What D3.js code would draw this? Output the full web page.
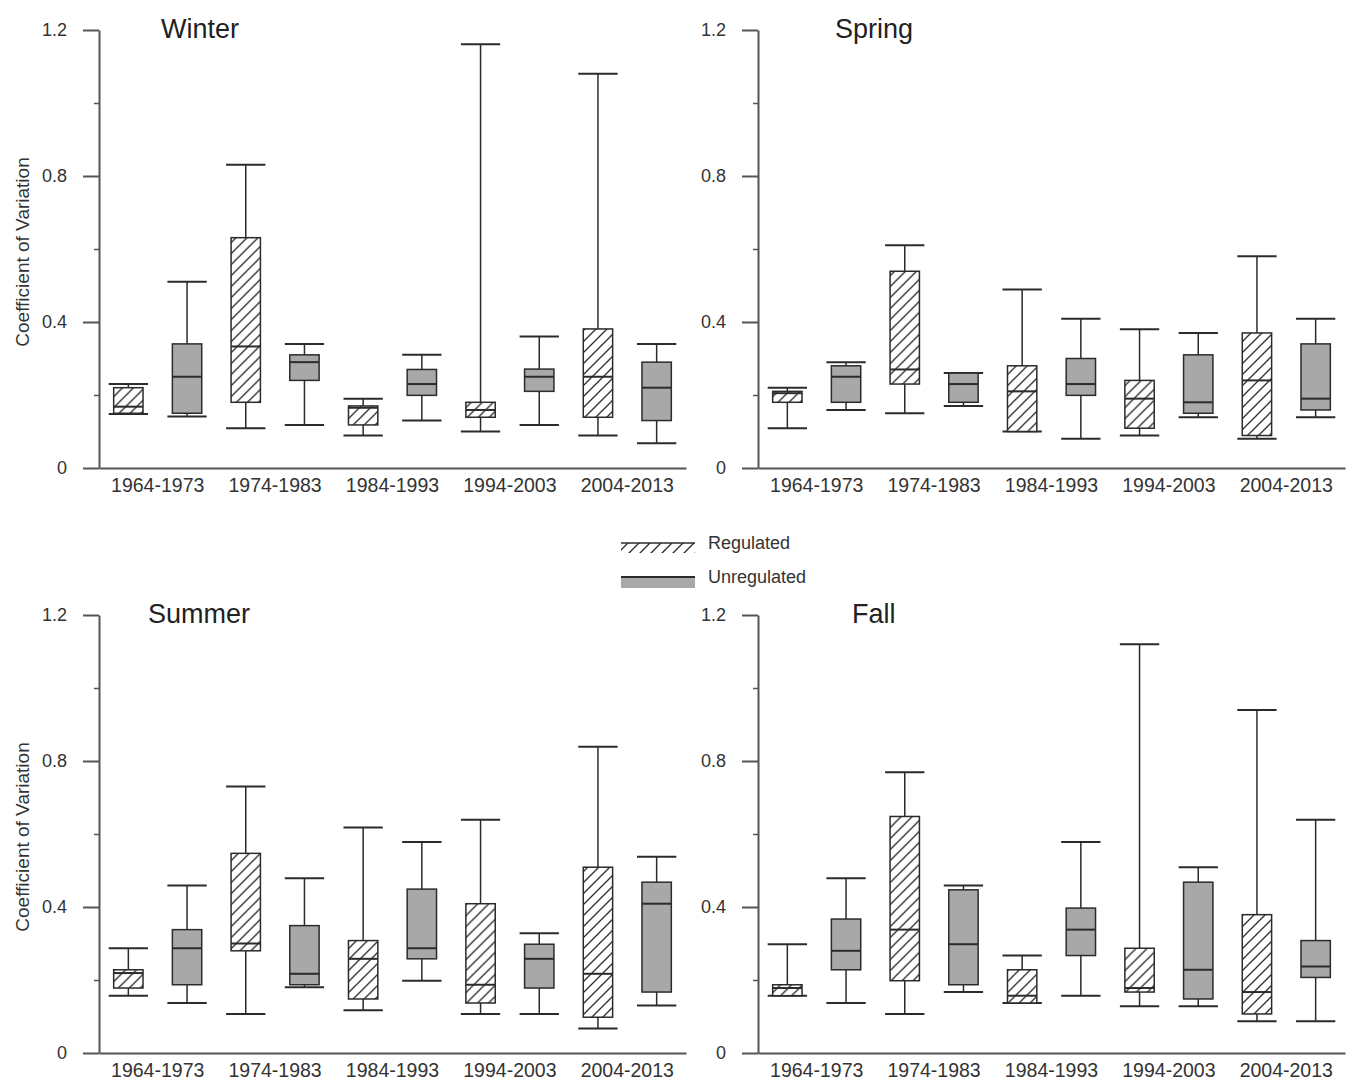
<!DOCTYPE html>
<html>
<head>
<meta charset="utf-8">
<script src="https://cdn.jsdelivr.net/npm/d3@7"></script>
<style>
  body { margin: 0; background: #fff; }
  svg { display: block; font-family: "Liberation Sans", Arial, sans-serif; }
</style>
</head>
<body>
<div class="chart"></div>
<script>

// Periods on the x axis
var periods = ["1964-1973", "1974-1983", "1984-1993", "1994-2003", "2004-2013"];
var seasons = ["Winter", "Spring", "Summer", "Fall"];
var yTicks = [0, 0.4, 0.8, 1.2];
var yMinorTicks = [0.2, 0.6, 1.0];

// Each box: [lower whisker, Q1, median, Q3, upper whisker]
var winterReg = [
    [0.148, 0.150, 0.168, 0.220, 0.230],
    [0.109, 0.180, 0.333, 0.631, 0.831],
    [0.089, 0.118, 0.165, 0.170, 0.190],
    [0.100, 0.139, 0.159, 0.180, 1.161],
    [0.089, 0.139, 0.250, 0.381, 1.080]
];
var winterUnreg = [
    [0.141, 0.150, 0.250, 0.340, 0.510],
    [0.118, 0.240, 0.290, 0.310, 0.340],
    [0.130, 0.199, 0.230, 0.270, 0.310],
    [0.118, 0.210, 0.250, 0.271, 0.360],
    [0.068, 0.130, 0.220, 0.290, 0.340]
];
var springReg = [
    [0.109, 0.180, 0.205, 0.210, 0.220],
    [0.150, 0.230, 0.270, 0.539, 0.610],
    [0.100, 0.100, 0.210, 0.280, 0.489],
    [0.089, 0.109, 0.190, 0.240, 0.380],
    [0.080, 0.089, 0.240, 0.370, 0.580]
];
var springUnreg = [
    [0.159, 0.180, 0.250, 0.280, 0.290],
    [0.170, 0.180, 0.230, 0.260, 0.260],
    [0.080, 0.199, 0.230, 0.300, 0.409],
    [0.139, 0.150, 0.180, 0.310, 0.370],
    [0.139, 0.159, 0.190, 0.340, 0.409]
];
var summerReg = [
    [0.157, 0.178, 0.219, 0.228, 0.287],
    [0.107, 0.280, 0.300, 0.547, 0.730],
    [0.117, 0.148, 0.258, 0.308, 0.618],
    [0.107, 0.137, 0.187, 0.409, 0.639],
    [0.067, 0.098, 0.217, 0.509, 0.839]
];
var summerUnreg = [
    [0.137, 0.187, 0.287, 0.338, 0.459],
    [0.180, 0.187, 0.217, 0.349, 0.479],
    [0.198, 0.258, 0.287, 0.449, 0.578],
    [0.107, 0.178, 0.258, 0.298, 0.328],
    [0.130, 0.167, 0.409, 0.468, 0.538]
];
var fallReg = [
    [0.157, 0.157, 0.178, 0.187, 0.298],
    [0.107, 0.198, 0.338, 0.648, 0.769],
    [0.137, 0.137, 0.157, 0.228, 0.267],
    [0.128, 0.167, 0.178, 0.287, 1.120],
    [0.087, 0.107, 0.167, 0.379, 0.940]
];
var fallUnreg = [
    [0.137, 0.228, 0.280, 0.367, 0.479],
    [0.167, 0.187, 0.298, 0.447, 0.459],
    [0.157, 0.267, 0.338, 0.397, 0.578],
    [0.128, 0.148, 0.228, 0.468, 0.509],
    [0.087, 0.207, 0.237, 0.308, 0.639]
];

var seasonData = {
    Winter: [winterReg, winterUnreg],
    Spring: [springReg, springUnreg],
    Summer: [summerReg, summerUnreg],
    Fall: [fallReg, fallUnreg]
};

// Panel placement (axis origin, title offset)
var panels = [
    { name: "Winter", left: 99,  top: 30,  titleX: 62, yLabel: true },
    { name: "Spring", left: 758, top: 30,  titleX: 77, yLabel: false },
    { name: "Summer", left: 99,  top: 615, titleX: 49, yLabel: true },
    { name: "Fall",   left: 758, top: 615, titleX: 94, yLabel: false }
];
var plotW = 587, plotH = 438;
var ink = "#2b2b2b", axisCol = "#555", grayFill = "#a8a8a8", textCol = "#333";

var svg = d3.select(".chart")
    .append("svg")
        .attr("width", 1349)
        .attr("height", 1081);

// Hatch pattern for regulated boxes
var hs = 11;
var pat = svg.append("defs").append("pattern")
    .attr("id", "hatch")
    .attr("patternUnits", "userSpaceOnUse")
    .attr("width", hs)
    .attr("height", hs);
pat.append("rect").attr("width", hs).attr("height", hs).attr("fill", "#fff");
pat.append("path")
    .attr("d", "M-2,2 L2,-2 M0," + hs + " L" + hs + ",0 M" + (hs - 2) + "," + (hs + 2) + " L" + (hs + 2) + "," + (hs - 2))
    .attr("stroke", "#2b2b2b")
    .attr("stroke-width", 1.3);

var keys = [];
periods.forEach(function(p) { keys.push(p + "|R"); keys.push(p + "|U"); });

var x = d3.scaleBand().domain(keys).range([0, plotW]);
var xp = d3.scaleBand().domain(periods).range([0, plotW]);
var y = d3.scaleLinear().domain([0, 1.2]).range([plotH, 0]);

var boxW = x.bandwidth() * 0.5;
var capW = x.bandwidth() * 0.67;

panels.forEach(function(p) {
    var g = svg.append("g")
        .attr("transform", "translate(" + p.left + "," + p.top + ")");

    // Y axis, major and minor ticks
    var yAxis = d3.axisLeft(y)
        .tickValues(yTicks)
        .tickSize(16)
        .tickSizeOuter(0)
        .tickPadding(16)
        .tickFormat(function(d) { return d === 0 ? "0" : d3.format(".1f")(d); });

    var ya = g.append("g").attr("class", "yAxis").call(yAxis);
    ya.select(".domain").attr("stroke", axisCol).attr("stroke-width", 2);
    ya.selectAll(".tick line").attr("stroke", axisCol).attr("stroke-width", 2);
    ya.selectAll(".tick text")
        .attr("fill", textCol)
        .style("font-size", "18px");

    g.append("g")
        .call(d3.axisLeft(y).tickValues(yMinorTicks).tickSize(5).tickSizeOuter(0).tickFormat(""))
        .call(function(s) {
            s.select(".domain").remove();
            s.selectAll(".tick line").attr("stroke", axisCol).attr("stroke-width", 1.5);
        });

    // X axis line
    var xa = g.append("g")
        .attr("transform", "translate(0," + plotH + ")")
        .call(d3.axisBottom(x).tickSize(0).tickSizeOuter(0).tickFormat(""));
    xa.select(".domain").attr("stroke", axisCol).attr("stroke-width", 2);

    g.selectAll(".xlab")
        .data(periods)
        .enter().append("text")
            .attr("class", "xlab")
            .attr("x", function(d) { return xp(d) + xp.bandwidth() / 2; })
            .attr("y", plotH + 24)
            .attr("text-anchor", "middle")
            .attr("fill", textCol)
            .style("font-size", "19.5px")
            .text(function(d) { return d; });

    // Title
    g.append("text")
        .attr("x", p.titleX)
        .attr("y", 8)
        .attr("fill", "#222")
        .style("font-size", "27px")
        .text(p.name);

    if (p.yLabel) {
        g.append("text")
            .attr("transform", "translate(-70," + (plotH / 2 + 3) + ") rotate(-90)")
            .attr("text-anchor", "middle")
            .attr("fill", textCol)
            .style("font-size", "19px")
            .text("Coefficient of Variation");
    }

    // Build box records
    var sd = seasonData[p.name];
    var boxes = [];
    periods.forEach(function(per, i) {
        boxes.push({ key: per + "|R", v: sd[0][i], reg: true });
        boxes.push({ key: per + "|U", v: sd[1][i], reg: false });
    });

    var b = g.selectAll(".box")
        .data(boxes)
        .enter().append("g")
            .attr("class", "box")
            .attr("transform", function(d) { return "translate(" + (x(d.key) + x.bandwidth() / 2) + ",0)"; });

    // Whiskers
    b.append("line")
        .attr("y1", function(d) { return y(d.v[3]); })
        .attr("y2", function(d) { return y(d.v[4]); })
        .attr("stroke", ink).attr("stroke-width", 1.5);
    b.append("line")
        .attr("y1", function(d) { return y(d.v[1]); })
        .attr("y2", function(d) { return y(d.v[0]); })
        .attr("stroke", ink).attr("stroke-width", 1.5);

    // Caps
    [0, 4].forEach(function(k) {
        b.append("line")
            .attr("x1", -capW / 2).attr("x2", capW / 2)
            .attr("y1", function(d) { return y(d.v[k]); })
            .attr("y2", function(d) { return y(d.v[k]); })
            .attr("stroke", ink).attr("stroke-width", 2);
    });

    // Box
    b.append("rect")
        .attr("x", -boxW / 2)
        .attr("width", boxW)
        .attr("y", function(d) { return y(d.v[3]); })
        .attr("height", function(d) { return Math.max(1, y(d.v[1]) - y(d.v[3])); })
        .attr("fill", function(d) { return d.reg ? "url(#hatch)" : grayFill; })
        .attr("stroke", ink)
        .attr("stroke-width", 1.5);

    // Median
    b.append("line")
        .attr("x1", -boxW / 2).attr("x2", boxW / 2)
        .attr("y1", function(d) { return y(d.v[2]); })
        .attr("y2", function(d) { return y(d.v[2]); })
        .attr("stroke", ink).attr("stroke-width", 2);
});

// Legend
var legend = svg.append("g").attr("transform", "translate(621,0)");

legend.append("rect")
    .attr("x", 0).attr("y", 543).attr("width", 74).attr("height", 10)
    .attr("fill", "url(#hatch)");
legend.append("line")
    .attr("x1", 0).attr("x2", 74).attr("y1", 543).attr("y2", 543)
    .attr("stroke", ink).attr("stroke-width", 1.5);
legend.append("rect")
    .attr("x", 0).attr("y", 577).attr("width", 74).attr("height", 11)
    .attr("fill", grayFill);
legend.append("line")
    .attr("x1", 0).attr("x2", 74).attr("y1", 577).attr("y2", 577)
    .attr("stroke", ink).attr("stroke-width", 2);

legend.selectAll(".legtext")
    .data(["Regulated", "Unregulated"])
    .enter().append("text")
        .attr("class", "legtext")
        .attr("x", 87)
        .attr("y", function(d, i) { return i === 0 ? 543 : 577; })
        .attr("dy", "0.35em")
        .attr("fill", textCol)
        .style("font-size", "18px")
        .text(function(d) { return d; });

</script>
</body>
</html>
